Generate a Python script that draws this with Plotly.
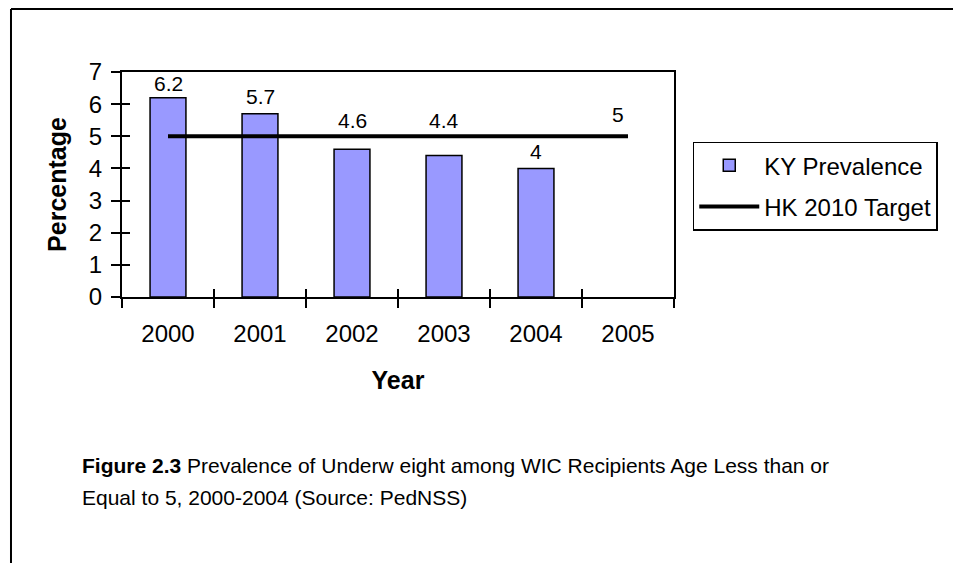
import plotly.graph_objects as go

# ---- data ----
years = ["2000", "2001", "2002", "2003", "2004", "2005"]
ky_prevalence = [6.2, 5.7, 4.6, 4.4, 4.0, None]
hk_target = [5, 5, 5, 5, 5, 5]
y_tick_values = [0, 1, 2, 3, 4, 5, 6, 7]
bar_label_text = ["6.2", "5.7", "4.6", "4.4", "4"]
target_label_text = "5"
caption_line1_bold = "Figure 2.3"
caption_line1_rest = " Prevalence of Underw eight among WIC Recipients Age Less than or"
caption_line2 = "Equal to 5, 2000-2004 (Source: PedNSS)"

# ---- style ----
FONT = "Liberation Sans, Arial, sans-serif"
bar_label_shift = [14, 17, 29, 35, 17]

fig = go.Figure()
fig.add_trace(go.Bar(
    x=years, y=ky_prevalence, name="KY Prevalence",
    marker=dict(color="#9999FF", line=dict(color="black", width=1.5)),
    width=0.39, legendgroup="a",
))
fig.add_trace(go.Scatter(
    x=years, y=hk_target, name="HK 2010 Target", mode="lines",
    line=dict(color="black", width=4), legendgroup="b",
))
# invisible helper trace so the overlay axes (inside tick marks) render
fig.add_trace(go.Scatter(
    x=years, y=hk_target, mode="lines", line=dict(width=0, color="rgba(0,0,0,0)"),
    xaxis="x2", yaxis="y2", showlegend=False, hoverinfo="skip",
))

# data labels (x given as category index)
for i, (val, txt, sh) in enumerate(zip(ky_prevalence, bar_label_text, bar_label_shift)):
    fig.add_annotation(x=i, y=val, xref="x", yref="y", text=txt, showarrow=False, yshift=sh,
                       yanchor="middle", font=dict(family=FONT, size=21, color="black"))
fig.add_annotation(x=len(years) - 1, y=hk_target[-1], xref="x", yref="y",
                   text=target_label_text, showarrow=False,
                   yshift=22, xshift=-10, yanchor="middle",
                   font=dict(family=FONT, size=21, color="black"))

# caption
fig.add_annotation(xref="paper", yref="paper", x=-0.0761, y=-0.751, xanchor="left",
                   yanchor="middle", showarrow=False, align="left",
                   text="<b>" + caption_line1_bold + "</b>" + caption_line1_rest,
                   font=dict(family=FONT, size=21, color="black"))
fig.add_annotation(xref="paper", yref="paper", x=-0.0761, y=-0.893, xanchor="left",
                   yanchor="middle", showarrow=False, align="left",
                   text=caption_line2, font=dict(family=FONT, size=21, color="black"))

# outer frame (left and top edges)
fig.add_shape(type="line", xref="paper", yref="paper", x0=-0.2011, x1=1.6, y0=1.28, y1=1.28,
              line=dict(color="black", width=2))
fig.add_shape(type="line", xref="paper", yref="paper", x0=-0.2011, x1=-0.2011, y0=1.28, y1=-1.3,
              line=dict(color="black", width=2))

fig.update_layout(
    width=953, height=555,
    margin=dict(l=114, r=287, t=64, b=266, autoexpand=False),
    paper_bgcolor="white", plot_bgcolor="white",
    font=dict(family=FONT, color="black"),
    showlegend=True,
    legend=dict(x=1.034, y=0.69, xanchor="left", yanchor="top",
                bordercolor="black", borderwidth=1.5, bgcolor="white",
                font=dict(family=FONT, size=24, color="black"),
                tracegroupgap=7, itemwidth=60),
    xaxis=dict(type="category", range=[-0.5, 5.5], showline=True, linecolor="black",
               linewidth=2, mirror=True,
               ticks="outside", ticklen=9, tickwidth=2, tickcolor="black",
               tickson="boundaries", showgrid=False, tickangle=0, ticklabelstandoff=14,
               tickfont=dict(family=FONT, size=24, color="black"),
               title=dict(text="<b>Year</b>", font=dict(family=FONT, size=25, color="black"),
                          standoff=26)),
    yaxis=dict(range=[0, 7], tickvals=y_tick_values, showline=True, linecolor="black",
               linewidth=2, mirror=True, ticks="outside", ticklen=9, tickwidth=2,
               tickcolor="black", showgrid=False, zeroline=False, ticklabelstandoff=4,
               tickfont=dict(family=FONT, size=24, color="black"),
               title=dict(text="<b>Percentage</b>", font=dict(family=FONT, size=25, color="black"),
                          standoff=15)),
    xaxis2=dict(type="category", overlaying="x", range=[-0.5, 5.5], ticks="inside", ticklen=8,
                tickwidth=2, tickcolor="black", tickson="boundaries", showticklabels=False,
                showline=False, showgrid=False, side="bottom"),
    yaxis2=dict(overlaying="y", range=[0, 7], ticks="inside", ticklen=8, tickwidth=2,
                tickcolor="black", tickvals=y_tick_values, showticklabels=False,
                showline=False, showgrid=False, zeroline=False, side="left"),
)

fig.write_html("out.html")
